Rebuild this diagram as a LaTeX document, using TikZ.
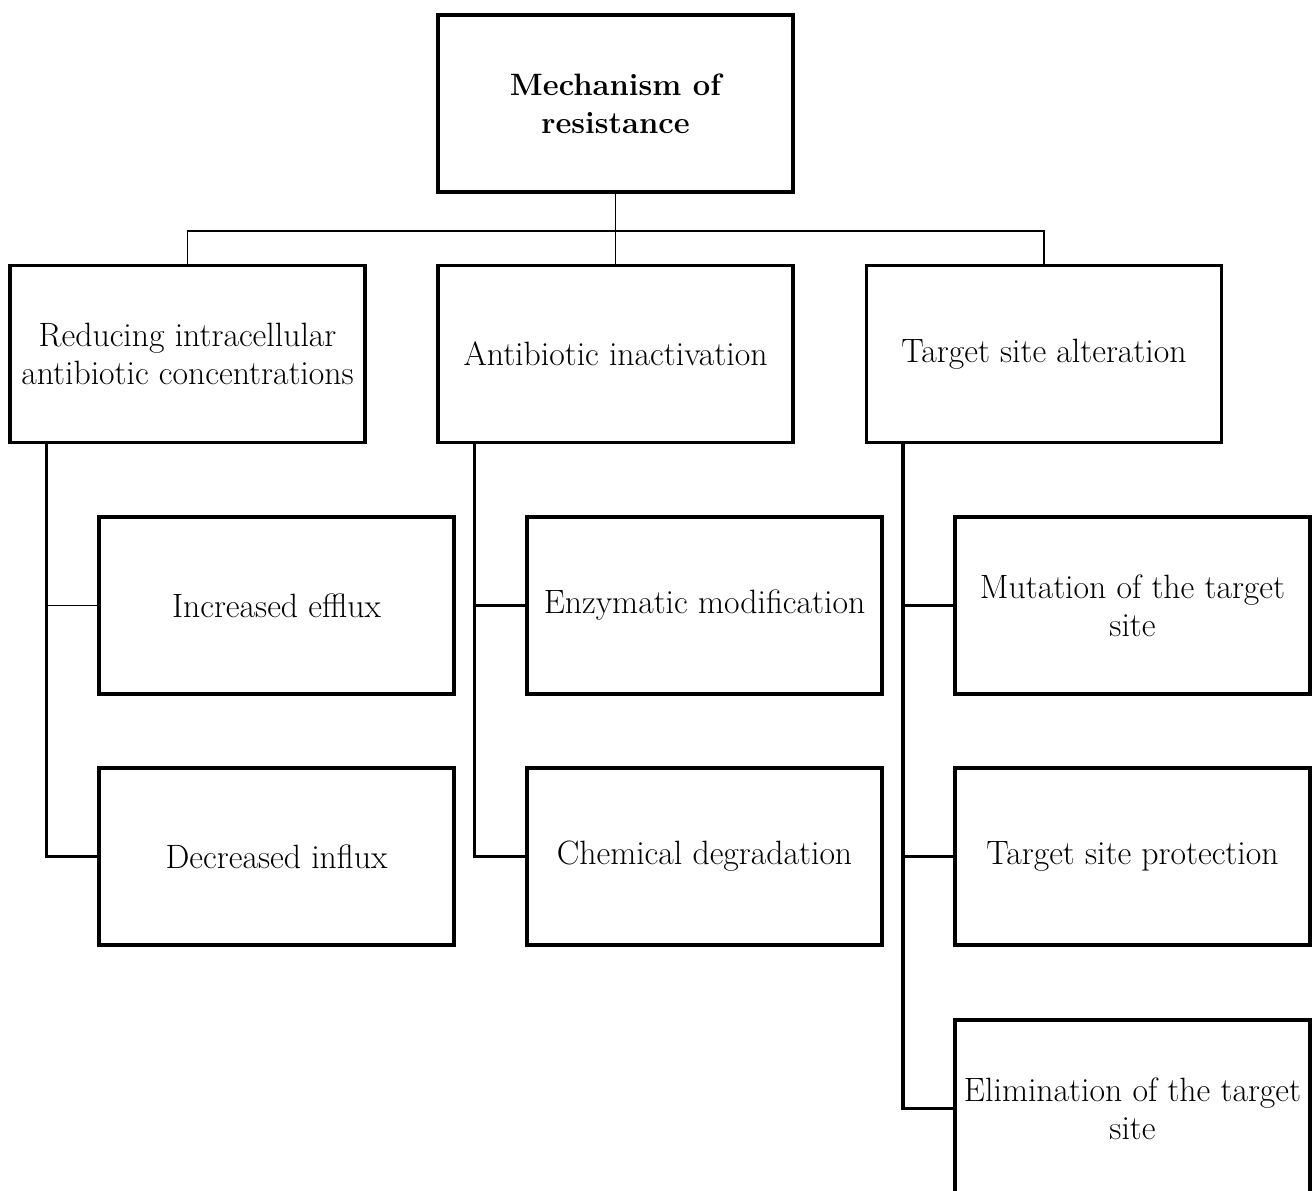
\documentclass[tikz,border=0pt]{standalone}
\usepackage{tikz}

\begin{document}
\begin{tikzpicture}[
		box/.style={draw, line width=1.9pt, minimum width=7.1cm, minimum height=3.54cm,
			inner sep=0pt, align=center, font=\fontsize{19.2}{21.8}\selectfont},
		rootbox/.style={box, font=\fontsize{17.6}{21.8}\selectfont\bfseries},
		bus/.style={line width=0.7pt},
		branch/.style={line width=1.9pt}
	]
		\clip (0, 0) rectangle (26.24, -23.8);
		
		% root
		\node[rootbox] (mech) at (12.31, -2.07) {Mechanism of\\resistance};
		
		% second level
		\node[box] (reduce) at (3.75, -7.08) {Reducing intracellular\\antibiotic concentrations};
		\node[box] (inact) at (12.31, -7.08) {Antibiotic inactivation};
		\node[box] (target) at (20.88, -7.08) {Target site alteration};
		
		% third level
		\node[box] (efflux) at (5.53, -12.11) {Increased efflux};
		\node[box] (influx) at (5.53, -17.13) {Decreased influx};
		\node[box] (enzym) at (14.09, -12.11) {Enzymatic modification};
		\node[box] (chem) at (14.09, -17.13) {Chemical degradation};
		\node[box] (mutat) at (22.65, -12.11) {Mutation of the target\\site};
		\node[box] (protect) at (22.65, -17.13) {Target site protection};
		\node[box] (elim) at (22.65, -22.17) {Elimination of the target\\site};
		
		% root to second level
		\coordinate (hub) at (12.31, -4.62);
		\draw[bus] (mech.south) -- (hub);
		\draw[bus] (reduce.north) |- (hub) -| (target.north);
		\draw[bus] (hub) -- (inact.north);
		
		% trunks of the three columns
		\coordinate (t1) at ([xshift=0.76cm]reduce.south west);
		\coordinate (t2) at ([xshift=0.76cm]inact.south west);
		\coordinate (t3) at ([xshift=0.76cm]target.south west);
		
		\draw[bus] (t1 |- efflux.west) -- (efflux.west);
		\draw[branch] (t1) |- (influx.west);
		
		\draw[branch] (t2 |- enzym.west) -- (enzym.west);
		\draw[branch] (t2) |- (chem.west);
		
		\draw[branch] (t3 |- mutat.west) -- (mutat.west);
		\draw[branch] (t3 |- protect.west) -- (protect.west);
		\draw[branch] (t3) |- (elim.west);
	\end{tikzpicture}
\end{document}
